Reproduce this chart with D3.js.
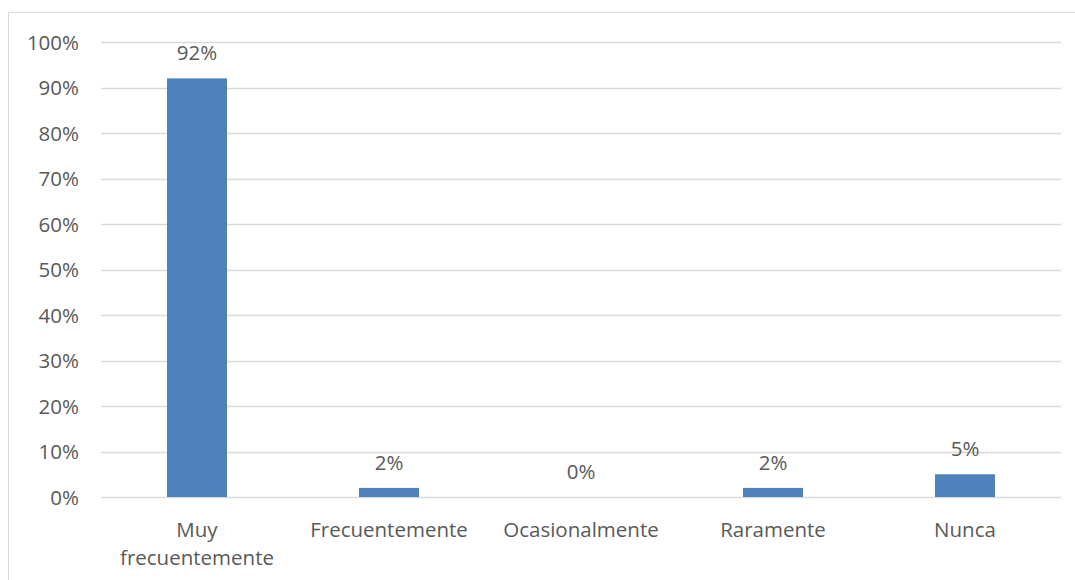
<!DOCTYPE html>
<html>
<head>
  <meta charset="utf-8">
  <title>Frecuencia</title>
  <script src="https://cdn.jsdelivr.net/npm/d3@7"></script>
  <style>
    html, body {
      margin: 0;
      background: #fff;
    }
    svg text {
      font-family: "Open Sans", sans-serif;
      font-size: 20.5px;
      fill: #595959;
    }
  </style>
</head>
<body>
<svg id="chart" width="1075" height="580"></svg>
<script>
  // data
  var categories = ["Muy frecuentemente", "Frecuentemente", "Ocasionalmente", "Raramente", "Nunca"];
  var values = [0.92, 0.02, 0.00, 0.02, 0.05];
  var yTicks = [0, 0.1, 0.2, 0.3, 0.4, 0.5, 0.6, 0.7, 0.8, 0.9, 1.0];

  var svg = d3.select("#chart");

  var plot = { left: 101, right: 1061, top: 42, bottom: 497 };

  // outer chart border
  svg.append("rect")
      .attr("x", 8.5)
      .attr("y", 12.5)
      .attr("width", 1075)
      .attr("height", 600)
      .attr("fill", "none")
      .attr("stroke", "#d9d9d9")
      .attr("stroke-width", 1);

  var x = d3.scaleBand()
      .domain(categories)
      .range([plot.left, plot.right])
      .paddingInner(0.6875)
      .paddingOuter(0.34375);

  var y = d3.scaleLinear()
      .domain([0, 1])
      .range([plot.bottom, plot.top]);

  // gridlines
  svg.append("g")
    .selectAll("line")
    .data(yTicks)
    .enter().append("line")
      .attr("x1", plot.left)
      .attr("x2", plot.right)
      .attr("y1", function(d) { return Math.round(y(d)) + 0.5; })
      .attr("y2", function(d) { return Math.round(y(d)) + 0.5; })
      .attr("stroke", "#d9d9d9")
      .attr("stroke-width", 1.3);

  // y axis labels
  var yAxis = d3.axisLeft(y)
      .tickValues(yTicks)
      .tickFormat(d3.format(".0%"))
      .tickSize(0)
      .tickPadding(22);

  svg.append("g")
      .attr("transform", "translate(" + plot.left + ",0)")
      .call(yAxis)
      .call(function(g) { g.select(".domain").remove(); })
      .selectAll("text")
        .attr("dy", "0.35em")
        .style("font-size", "20.5px")
        .style("font-family", "'Open Sans', sans-serif")
        .attr("fill", "#595959");

  // bars
  svg.append("g")
    .selectAll("rect")
    .data(values)
    .enter().append("rect")
      .attr("x", function(d, i) { return x(categories[i]); })
      .attr("y", function(d) { return y(d); })
      .attr("width", x.bandwidth())
      .attr("height", function(d) { return y(0) - y(d); })
      .attr("fill", "#4f81bd");

  // value labels
  svg.append("g")
    .selectAll("text")
    .data(values)
    .enter().append("text")
      .attr("x", function(d, i) { return x(categories[i]) + x.bandwidth() / 2; })
      .attr("y", function(d) { return y(d) - 18; })
      .attr("text-anchor", "middle")
      .text(function(d) { return d3.format(".0%")(d); });

  // category labels (wrap the long one like the original)
  var catLines = {
    "Muy frecuentemente": ["Muy", "frecuentemente"]
  };

  var cat = svg.append("g")
    .selectAll("text")
    .data(categories)
    .enter().append("text")
      .attr("text-anchor", "middle")
      .attr("y", 537);

  cat.selectAll("tspan")
    .data(function(d) { return (catLines[d] || [d]).map(function(t) { return { cat: d, text: t }; }); })
    .enter().append("tspan")
      .attr("x", function(d) { return x(d.cat) + x.bandwidth() / 2; })
      .attr("dy", function(d, i) { return i === 0 ? 0 : 28; })
      .text(function(d) { return d.text; });
</script>
</body>
</html>
